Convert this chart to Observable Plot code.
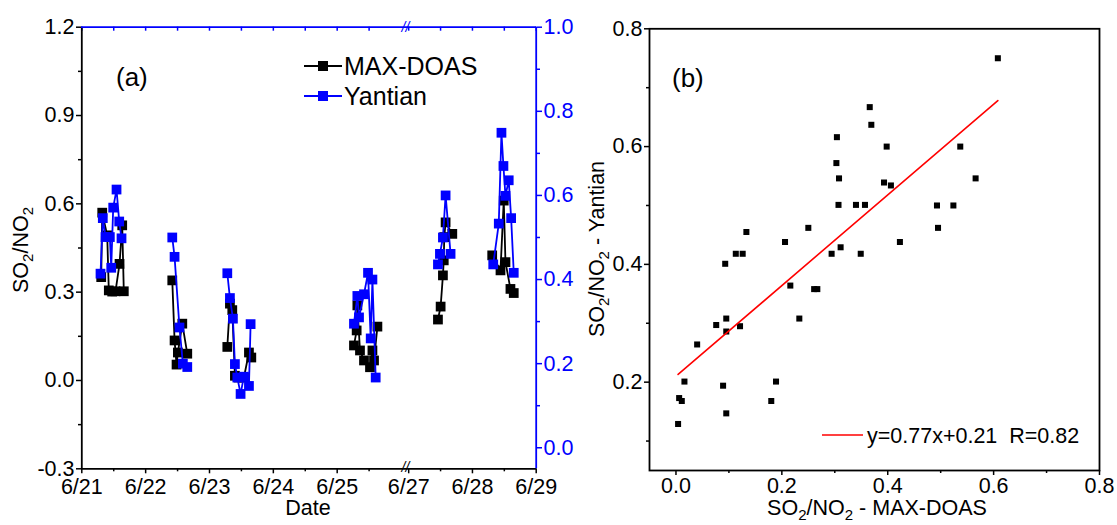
<!DOCTYPE html>
<html><head><meta charset="utf-8">
<script src="https://cdn.jsdelivr.net/npm/d3@7"></script>
<script src="https://cdn.jsdelivr.net/npm/@observablehq/plot@0.6"></script>
<style>
body{margin:0;background:#fff;}
#wrap{display:flex;width:1117px;height:525px;background:#fff;}
#wrap svg{display:block;}
</style></head><body><div id="wrap"></div>
<script>
// ---------- Panel (a): time series ----------
const dateTicks = [0, 1, 2, 3, 4, 6, 7, 8];          // days since 6/21 00:00
const dateLabels = ["6/21","6/22","6/23","6/24","6/25","6/27","6/28","6/29"];
const dateMinor = [0.5, 1.5, 2.5, 3.5, 4.5, 6.5, 7.5];
const breakStart = 5.07, breakEnd = 5.95;
const dayDomain = [0, 8];
const leftDomain = [-0.3, 1.2];
const rightDomain = [-0.05, 1.0];
const leftTicks = [-0.3, 0, 0.3, 0.6, 0.9, 1.2];
const leftMinor = [-0.15, 0.15, 0.45, 0.75, 1.05];
const rightTicks = [0, 0.2, 0.4, 0.6, 0.8, 1.0];
const rightMinor = [0.1, 0.3, 0.5, 0.7, 0.9];

const maxdoasTime = [0.304,0.320,0.398,0.423,0.476,0.528,0.591,0.633,0.658,
  1.417,1.453,1.484,1.505,1.574,1.652,
  2.279,2.320,2.357,2.398,2.456,2.539,2.618,2.655,
  4.263,4.305,4.316,4.357,4.420,4.514,4.552,4.577,4.630,
  6.459,6.501,6.537,6.550,6.558,6.579,6.684,
  7.310,7.440,7.491,7.518,7.596,7.648];
const maxdoasRatio = [0.351,0.570,0.493,0.306,0.302,0.303,0.396,0.527,0.303,
  0.340,0.136,0.054,0.095,0.193,0.091,
  0.114,0.261,0.239,0.016,0.010,0.010,0.095,0.078,
  0.119,0.170,0.255,0.102,0.068,0.045,0.102,0.068,0.183,
  0.207,0.251,0.357,0.408,0.487,0.537,0.498,
  0.425,0.374,0.611,0.402,0.311,0.297];
const yantianTime = [0.293,0.329,0.371,0.439,0.461,0.492,0.544,0.586,0.622,
  1.417,1.453,1.530,1.583,1.652,
  2.279,2.320,2.367,2.398,2.436,2.487,2.539,2.618,2.644,
  4.263,4.316,4.342,4.420,4.483,4.525,4.552,4.603,
  6.459,6.490,6.537,6.579,6.657,
  7.326,7.413,7.455,7.486,7.518,7.569,7.607,7.648];
const yantianRatio = [0.414,0.546,0.501,0.501,0.428,0.571,0.614,0.538,0.498,
  0.500,0.454,0.286,0.200,0.192,
  0.415,0.356,0.307,0.199,0.167,0.128,0.169,0.147,0.294,
  0.295,0.361,0.310,0.365,0.416,0.260,0.400,0.167,
  0.436,0.461,0.500,0.600,0.461,
  0.436,0.533,0.749,0.670,0.599,0.636,0.546,0.416];

// ---------- Panel (b): scatter ----------
const scatterMaxdoas = [0.608,0.366,0.369,0.304,0.303,0.308,0.307,0.340,0.357,0.133,0.250,0.206,0.113,0.126,0.093,0.294,0.311,0.349,0.398,0.537,0.393,0.406,0.566,0.493,0.524,0.495,0.423,0.216,0.261,0.267,0.233,0.095,0.076,0.095,0.121,0.040,0.016,0.089,0.189,0.006,0.011,0.180,0.095,0.004];
const scatterYantian = [0.750,0.667,0.637,0.616,0.572,0.546,0.501,0.501,0.501,0.455,0.462,0.438,0.418,0.418,0.401,0.418,0.429,0.418,0.600,0.600,0.539,0.534,0.546,0.500,0.500,0.462,0.438,0.364,0.358,0.358,0.308,0.308,0.297,0.286,0.295,0.264,0.201,0.194,0.201,0.173,0.168,0.168,0.147,0.129];
const fitSlope = 0.77, fitIntercept = 0.21, fitR = 0.82;
const bXDomain = [-0.05, 0.8], bYDomain = [0.05, 0.8];
const bXTicks = [0, 0.2, 0.4, 0.6, 0.8], bXMinor = [0.1, 0.3, 0.5, 0.7];
const bYTicks = [0.2, 0.4, 0.6, 0.8], bYMinor = [0.1, 0.3, 0.5, 0.7];

// ---------- helpers ----------
const FONT = "Arial, 'Liberation Sans', sans-serif";
const FS = 21.5;
const toLeft = r => leftDomain[0] + (r - rightDomain[0]) * (leftDomain[1] - leftDomain[0]) / (rightDomain[1] - rightDomain[0]);
const fromLeft = v => rightDomain[0] + (v - leftDomain[0]) * (rightDomain[1] - rightDomain[0]) / (leftDomain[1] - leftDomain[0]);
const fmt1 = d => d.toFixed(1);
const labelOf = d => dateLabels[dateTicks.indexOf(d)];

const maxdoas = maxdoasTime.map((t, i) => ({t, v: maxdoasRatio[i], day: Math.floor(t)}));
const yantian = yantianTime.map((t, i) => ({t, v: toLeft(yantianRatio[i]), day: Math.floor(t)}));
const scatter = scatterMaxdoas.map((x, i) => ({x, y: scatterYantian[i]}));
const fitX = d3.extent(scatterMaxdoas);
const fitLine = fitX.map(x => ({x, y: fitSlope * x + fitIntercept}));

const BLUE = "#0000ff";
const aTop = 26.7, aBottom = 468.3;
const frameH = aBottom - aTop;

const plotA = Plot.plot({
  width: 580, height: 525,
  marginLeft: 81, marginRight: 44, marginTop: aTop, marginBottom: 525 - aBottom,
  style: {fontFamily: FONT, fontSize: FS + "px", background: "white", color: "black", overflow: "visible"},
  x: {type: "linear", domain: [dayDomain[0], breakStart, breakEnd, dayDomain[1]], range: [81.3, 405, 405, 535.7]},
  y: {domain: leftDomain, range: [aBottom, aTop]},
  marks: [
    Plot.line(maxdoas, {x: "t", y: "v", z: "day", stroke: "black", strokeWidth: 1.8}),
    Plot.dot(maxdoas, {x: "t", y: "v", symbol: "square", r: 5.5, fill: "black", stroke: "none"}),
    Plot.line(yantian, {x: "t", y: "v", z: "day", stroke: BLUE, strokeWidth: 1.8}),
    Plot.dot(yantian, {x: "t", y: "v", symbol: "square", r: 5.5, fill: BLUE, stroke: "none"}),
    // bottom axis
    Plot.axisX(dateTicks, {anchor: "bottom", tickSize: 5, tickPadding: 5, tickFormat: labelOf, label: null, fontSize: FS, strokeWidth: 1.5}),
    Plot.axisX(dateMinor, {anchor: "bottom", tickSize: 3, tickFormat: () => "", label: null, strokeWidth: 1.5}),
    // top (blue) inward ticks
    Plot.tickX(dateTicks.concat(dateMinor), {x: d => d, stroke: BLUE, strokeWidth: 1.5, insetBottom: frameH - 4}),
    // left axis
    Plot.axisY(leftTicks, {anchor: "left", tickSize: 5, tickPadding: 2, tickFormat: fmt1, label: null, fontSize: FS, strokeWidth: 1.5}),
    Plot.axisY(leftMinor, {anchor: "left", tickSize: 3, tickFormat: () => "", label: null, strokeWidth: 1.5}),
    // right (blue) axis for Yantian
    Plot.axisY(rightTicks.map(toLeft), {anchor: "right", tickSize: 5, tickPadding: 2, tickFormat: d => fmt1(Math.abs(fromLeft(d)) < 1e-9 ? 0 : fromLeft(d)), label: null, color: BLUE, fontSize: FS, strokeWidth: 1.5}),
    Plot.axisY(rightMinor.map(toLeft), {anchor: "right", tickSize: 3, tickFormat: () => "", label: null, color: BLUE, strokeWidth: 1.5}),
    // axis lines
    Plot.ruleX([dayDomain[0]], {stroke: "black", strokeWidth: 1.8}),
    Plot.ruleY([leftDomain[0]], {stroke: "black", strokeWidth: 1.8}),
    Plot.ruleY([leftDomain[1]], {stroke: BLUE, strokeWidth: 1.8}),
    Plot.ruleX([dayDomain[1]], {stroke: BLUE, strokeWidth: 1.8}),
    // axis break marks
    Plot.text([leftDomain[0]], {x: () => (breakStart + breakEnd) / 2, y: d => d, text: () => "//", fill: "black", fontSize: 14, fontStyle: "italic", dy: -1}),
    Plot.text([leftDomain[1]], {x: () => (breakStart + breakEnd) / 2, y: d => d, text: () => "//", fill: BLUE, fontSize: 14, fontStyle: "italic"})
  ]
});

const bTop = 28.3, bBottom = 470;
const plotB = Plot.plot({
  width: 537, height: 525,
  marginLeft: 69, marginRight: 18, marginTop: bTop, marginBottom: 525 - bBottom,
  style: {fontFamily: FONT, fontSize: FS + "px", background: "white", color: "black", overflow: "visible"},
  x: {domain: bXDomain},
  y: {domain: bYDomain},
  marks: [
    Plot.dot(scatter, {x: "x", y: "y", symbol: "square", r: 3.4, fill: "black", stroke: "none"}),
    Plot.line(fitLine, {x: "x", y: "y", stroke: "#ff0000", strokeWidth: 1.6}),
    Plot.axisX(bXTicks, {anchor: "bottom", tickSize: 5, tickPadding: 2, tickFormat: fmt1, label: null, fontSize: FS, strokeWidth: 1.5}),
    Plot.axisX(bXMinor, {anchor: "bottom", tickSize: 3, tickFormat: () => "", label: null, strokeWidth: 1.5}),
    Plot.axisY(bYTicks, {anchor: "left", tickSize: 5, tickPadding: 2, tickFormat: fmt1, label: null, fontSize: FS, strokeWidth: 1.5}),
    Plot.axisY(bYMinor, {anchor: "left", tickSize: 3, tickFormat: () => "", label: null, strokeWidth: 1.5}),
    Plot.frame({stroke: "black", strokeWidth: 1.8})
  ]
});

const wrap = document.getElementById("wrap");
wrap.appendChild(plotA);
wrap.appendChild(plotB);

// rich text (subscripts) helper
function richText(svg, x, y, parts, {size = FS, anchor = "start", rotate = 0, fill = "black"} = {}) {
  const t = d3.select(svg).append("text")
    .attr("x", x).attr("y", y)
    .attr("text-anchor", anchor)
    .attr("font-family", FONT).attr("font-size", size)
    .attr("fill", fill)
    .attr("transform", rotate ? `rotate(${rotate},${x},${y})` : null);
  let shifted = false;
  parts.forEach(([s, sub]) => {
    const sp = t.append("tspan").text(s);
    if (sub && !shifted) { sp.attr("dy", size * 0.25).attr("font-size", size * 0.7); shifted = true; }
    else if (!sub && shifted) { sp.attr("dy", -size * 0.25); shifted = false; }
    else if (sub) sp.attr("font-size", size * 0.7);
  });
  return t;
}
const so2no2 = [["SO"], ["2", true], ["/NO"], ["2", true]];

// Panel (a) texts
richText(plotA, 28, 250, so2no2, {anchor: "middle", rotate: -90});
richText(plotA, 308, 515, [["Date"]], {anchor: "middle"});
richText(plotA, 116, 86, [["(a)"]], {size: 26});
const gA = d3.select(plotA);
gA.append("line").attr("x1", 304).attr("x2", 342).attr("y1", 66).attr("y2", 66).attr("stroke", "black").attr("stroke-width", 1.8);
gA.append("rect").attr("x", 318).attr("y", 61).attr("width", 10).attr("height", 10).attr("fill", "black");
richText(plotA, 344, 75, [["MAX-DOAS"]], {size: 25});
gA.append("line").attr("x1", 304).attr("x2", 342).attr("y1", 96).attr("y2", 96).attr("stroke", BLUE).attr("stroke-width", 1.8);
gA.append("rect").attr("x", 318).attr("y", 91).attr("width", 10).attr("height", 10).attr("fill", BLUE);
richText(plotA, 344, 105, [["Yantian"]], {size: 25});

// Panel (b) texts
richText(plotB, 24, 249, [["SO"], ["2", true], ["/NO"], ["2", true], [" - Yantian"]], {anchor: "middle", rotate: -90});
richText(plotB, 297, 515, [["SO"], ["2", true], ["/NO"], ["2", true], [" - MAX-DOAS"]], {anchor: "middle"});
richText(plotB, 92, 87, [["(b)"]], {size: 26});
const gB = d3.select(plotB);
gB.append("line").attr("x1", 242).attr("x2", 283).attr("y1", 435).attr("y2", 435).attr("stroke", "#ff0000").attr("stroke-width", 1.6);
richText(plotB, 287, 442.5, [[`y=${fitSlope}x+${fitIntercept}  R=${fitR}`]]);
</script>
</body></html>
